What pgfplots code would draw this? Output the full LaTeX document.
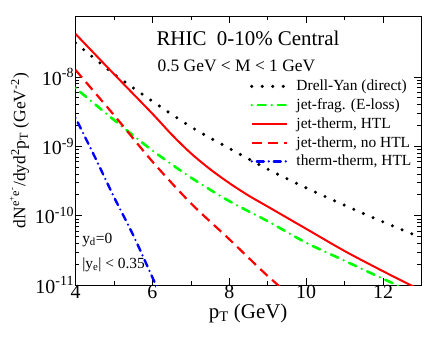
\documentclass[border=0pt]{standalone}
\usepackage{fontspec}
\setmainfont{Liberation Serif}
\usepackage{pgfplots}
\pgfplotsset{compat=1.18}

% pT (GeV) vs rate
\pgfplotstableread{
x y
4 3.09e-8
5 1.10e-8
6 4.47e-9
7 1.91e-9
8 9.33e-10
9 4.68e-10
10 2.51e-10
11 1.41e-10
12 8.13e-11
13 4.79e-11
}\dy
\pgfplotstableread{
x y
4 6.92e-9
5 2.40e-9
6 8.71e-10
7 3.55e-10
8 1.62e-10
9 8.32e-11
10 4.07e-11
11 2.24e-11
12 1.23e-11
13 6.9e-12
}\jetfrag
\pgfplotstableread{
x y
4 4.17e-8
5 1.10e-8
6 2.95e-9
6.5 1.48e-9
7 7.94e-10
7.5 4.68e-10
8 2.95e-10
8.5 1.95e-10
9 1.35e-10
10 6.46e-11
11 3.09e-11
12 1.58e-11
13 8.3e-12
}\jthtl
\pgfplotstableread{
x y
4 1.26e-8
5 2.82e-9
6 6.03e-10
7 1.51e-10
8 4.57e-11
9 1.35e-11
10 4.47e-12
}\jtnohtl
\pgfplotstableread{
x y
4 2.57e-9
4.5 7.08e-10
5 1.86e-10
5.5 5.25e-11
6 1.29e-11
6.5 3.16e-12
}\thth

\begin{document}
\begin{tikzpicture}
\path[use as bounding box] (-75.5bp,-53bp) rectangle (361.5bp,285bp);
\begin{axis}[
    at={(0,0)}, anchor=south west,
    scale only axis,
    width=346bp, height=269bp,
    ymode=log,
    xmin=4, xmax=13,
    ymin=1e-11, ymax=7.55e-8,
    xtick={4,6,...,12},
    minor xtick={5,7,...,13},
    ytick={1e-11,1e-10,1e-9,1e-8},
    yticklabels={10\textsuperscript{-11},10\textsuperscript{-10},10\textsuperscript{-9},10\textsuperscript{-8}},
    /pgf/number format/assume math mode=true,
    tick align=inside,
    major tick length=7bp,
    minor tick length=4bp,
    axis line style={line width=0.8bp},
    every tick/.style={line width=0.6bp,black},
    tick label style={font=\fontsize{20}{20}\selectfont},
    xticklabel style={yshift=3bp},
    yticklabel style={xshift=2bp},
    xlabel={p\textsubscript{T} (GeV)},
    ylabel={dN\textsuperscript{e\textsuperscript{+}e\textsuperscript{-}}/dyd\textsuperscript{2}p\textsubscript{T} (GeV\textsuperscript{-2})},
    xlabel style={at={(rel axis cs:0.499,-0.104)},anchor=center,font=\fontsize{21}{21}\selectfont},
    ylabel style={at={(rel axis cs:-0.162,0.5)},anchor=center,font=\fontsize{17.5}{17.5}\selectfont},
    legend image code/.code={\draw[#1] (0bp,0bp) -- (35bp,0bp);},
    legend cell align=left,
    legend style={
        at={(rel axis cs:0.504,0.762)}, anchor=north west,
        draw=none, fill=none, inner sep=0pt,
        font=\fontsize{15.5}{15.5}\selectfont,
        nodes={inner sep=0pt},
        column sep=8bp, row sep=6.5bp,
    },
]
\addplot[black, line width=3.4bp, line cap=round, dash pattern=on 0pt off 10.5bp, smooth] table {\dy};
\addlegendentry{Drell-Yan (direct)}
\addplot[green, line width=2.6bp, line cap=round, dash pattern=on 0pt off 6bp on 8bp off 6bp, smooth] table {\jetfrag};
\addlegendentry{jet-frag. (E-loss)}
\addplot[red, line width=2bp, smooth] table {\jthtl};
\addlegendentry{jet-therm, HTL}
\addplot[red, line width=2.2bp, dash pattern=on 10bp off 6bp, smooth] table {\jtnohtl};
\addlegendentry{jet-therm, no HTL}
\addplot[blue, line width=2.4bp, line cap=round, dash pattern=on 0pt off 5bp on 7bp off 5bp, smooth] table {\thth};
\addlegendentry{therm-therm, HTL}
\node[anchor=base west, font=\fontsize{21}{21}\selectfont] at (rel axis cs:0.224,0.892) {RHIC\ \ 0-10\% Central};
\node[anchor=base west, font=\fontsize{17.5}{17.5}\selectfont] at (rel axis cs:0.227,0.792) {0.5 GeV {\char"3C} M {\char"3C} 1 GeV};
\node[anchor=base west, font=\fontsize{15.5}{15.5}\selectfont, inner sep=0pt] at (rel axis cs:0.019,0.156) {y\textsubscript{d}=0};
\node[anchor=base west, font=\fontsize{15.5}{15.5}\selectfont, inner sep=0pt] at (rel axis cs:0.019,0.063) {|y\textsubscript{e}| {\char"3C} 0.35};
\end{axis}
\end{tikzpicture}
\end{document}
